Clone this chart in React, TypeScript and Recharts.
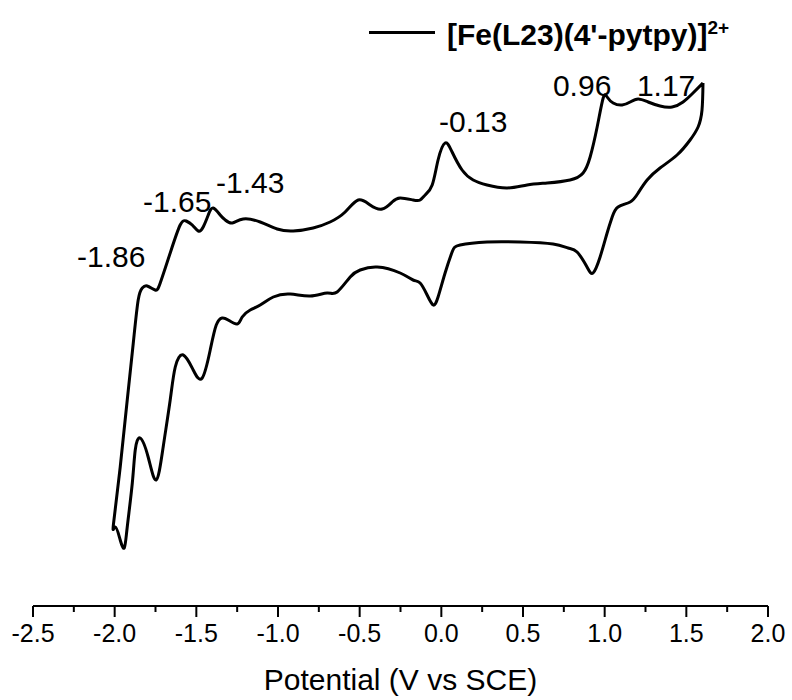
import { LineChart, Line, XAxis, YAxis, Legend, ReferenceDot } from "recharts";

// cathodic sweep: from +1.6 V down to the switching point at -2.0 V
const cathodicPotential = [
  1.602, 1.596, 1.572, 1.523, 1.443, 1.339, 1.26, 1.205, 1.156, 1.082, 1.046, 1.015, 0.972, 0.929,
  0.892, 0.831, 0.776, 0.684, 0.482, 0.28, 0.115, 0.066, 0.023, -0.02, -0.05, -0.087, -0.13, -0.173,
  -0.252, -0.393, -0.497, -0.558, -0.638, -0.699, -0.803, -0.925, -1.029, -1.109, -1.17, -1.219,
  -1.25, -1.305, -1.342, -1.378, -1.415, -1.464, -1.519, -1.58, -1.629, -1.66, -1.703, -1.746, -1.795,
  -1.844, -1.874, -1.892, -1.923, -1.941, -1.966, -1.996, -2.008,
];
const cathodicCurrent = [
  52.3, 49.6, 47.9, 46.6, 45.1, 43.8, 42.6, 41.3, 40.4, 39.9, 38.9, 37.3, 34.9, 33.3,
  33.9, 35.4, 35.8, 36.2, 36.4, 36.4, 36.1, 35.4, 33.3, 30.9, 30.1, 31.1, 32.3, 32.6,
  33.3, 33.9, 33.6, 32.9, 31.4, 31.3, 31.0, 31.2, 30.9, 30.1, 29.6, 28.9,
  28.2, 28.6, 28.8, 28.1, 25.6, 22.8, 23.6, 25.1, 23.9, 20.6, 15.9, 12.6, 14.9,
  16.8, 15.6, 12.3, 7.9, 5.8, 6.6, 7.9, 8.1,
];

// anodic sweep: back from -2.0 V up to +1.6 V
const anodicPotential = [
  -1.966, -1.923, -1.886, -1.856, -1.831, -1.801, -1.752, -1.721, -1.66, -1.599, -1.562, -1.525,
  -1.488, -1.458, -1.427, -1.397, -1.354, -1.323, -1.28, -1.213, -1.109, -1.005, -0.907, -0.785,
  -0.681, -0.589, -0.509, -0.436, -0.362, -0.301, -0.252, -0.173, -0.13, -0.099, -0.056, -0.02,
  0.023, 0.066, 0.127, 0.195, 0.28, 0.403, 0.525, 0.648, 0.788, 0.868, 0.911, 0.954, 0.991,
  1.015, 1.052, 1.107, 1.156, 1.205, 1.266, 1.339, 1.413, 1.48, 1.541, 1.602,
];
const anodicCurrent = [
  13.9, 20.6, 26.3, 30.6, 31.8, 32.0, 31.6, 32.3, 35.3, 38.1, 38.5, 38.1,
  37.5, 37.9, 39.1, 39.8, 39.1, 38.6, 38.3, 38.7, 38.4, 37.7, 37.5, 37.8,
  38.4, 39.4, 40.6, 40.1, 39.7, 40.4, 40.8, 40.6, 40.6, 41.1, 42.1, 44.6,
  46.3, 45.4, 43.6, 42.6, 42.1, 41.8, 42.1, 42.3, 42.6, 43.3, 44.9, 47.9, 50.8,
  50.9, 50.3, 50.1, 50.4, 50.7, 50.4, 50.0, 49.9, 50.4, 51.3, 52.3,
];

const majorTicks = [-2.5, -2.0, -1.5, -1.0, -0.5, 0.0, 0.5, 1.0, 1.5, 2.0];
const minorTicks = [-2.25, -1.75, -1.25, -0.75, -0.25, 0.25, 0.75, 1.25, 1.75];

const peakLabels = ["-1.86", "-1.65", "-1.43", "-0.13", "0.96", "1.17"];
const peakLabelPotential = [-2.021, -1.617, -1.17, 0.195, 0.862, 1.376];
const peakLabelCurrent = [35.0, 40.5, 42.4, 48.5, 52.1, 52.1];

const data = [
  ...cathodicPotential.map((v, k) => ({ v, i: cathodicCurrent[k] })),
  ...anodicPotential.map((v, k) => ({ v, i: anodicCurrent[k] })),
];
const allTicks = [...majorTicks, ...minorTicks].sort((a, b) => a - b);

const FONT = "Arial, 'Liberation Sans', Helvetica, sans-serif";

const AxisTick = (props: any) => {
  const { x, y, payload } = props;
  const major = majorTicks.includes(payload.value);
  return (
    <g>
      <line x1={x} x2={x} y1={y} y2={y + (major ? 11 : 6)} stroke="#000" strokeWidth={2} />
      {major && (
        <text x={x} y={y + 36} textAnchor="middle" fontFamily={FONT} fontSize={25} fill="#000">
          {payload.value.toFixed(1)}
        </text>
      )}
    </g>
  );
};

const LegendBox = () => (
  <div style={{ position: "relative", width: 420, height: 50, fontFamily: FONT }}>
    <span
      style={{ position: "absolute", left: 9, top: 31, width: 66, height: 2.5, background: "#000" }}
    />
    <span
      style={{
        position: "absolute",
        left: 87,
        top: 13,
        fontSize: 30,
        lineHeight: "30px",
        fontWeight: "bold",
        whiteSpace: "nowrap",
        color: "#000",
      }}
    >
      [Fe(L23)(4'-pytpy)]<sup style={{ fontSize: 19 }}>2+</sup>
    </span>
  </div>
);

export default function App() {
  return (
    <div style={{ position: "absolute", left: 0, top: 0, background: "#fff" }}>
      <LineChart width={792} height={700} data={data} margin={{ top: 6, right: 24, bottom: 0, left: 33 }}>
        <XAxis
          dataKey="v"
          type="number"
          domain={[-2.5, 2]}
          ticks={allTicks}
          interval={0}
          tick={<AxisTick />}
          tickLine={false}
          tickSize={0}
          tickMargin={0}
          axisLine={{ stroke: "#000", strokeWidth: 2 }}
          height={94}
          label={{
            value: "Potential (V vs SCE)",
            position: "insideBottom",
            offset: 10,
            fontSize: 30,
            fontFamily: FONT,
            fill: "#000",
          }}
        />
        <YAxis hide type="number" domain={[0, 60]} allowDataOverflow />
        <Legend
          layout="horizontal"
          align="center"
          verticalAlign="middle"
          content={<LegendBox />}
          wrapperStyle={{ position: "absolute", left: 360, top: 0, width: 420, height: 50 }}
        />
        <Line
          type="natural"
          dataKey="i"
          stroke="#000"
          strokeWidth={3}
          dot={false}
          isAnimationActive={false}
        />
        {peakLabels.map((t, k) => (
          <ReferenceDot
            key={t}
            x={peakLabelPotential[k]}
            y={peakLabelCurrent[k]}
            r={0}
            shape={(p: any) => (
              <text
                x={p.cx}
                y={p.cy}
                textAnchor="middle"
                dominantBaseline="central"
                fontFamily={FONT}
                fontSize={30}
                fill="#000"
              >
                {t}
              </text>
            )}
          />
        ))}
      </LineChart>
    </div>
  );
}
